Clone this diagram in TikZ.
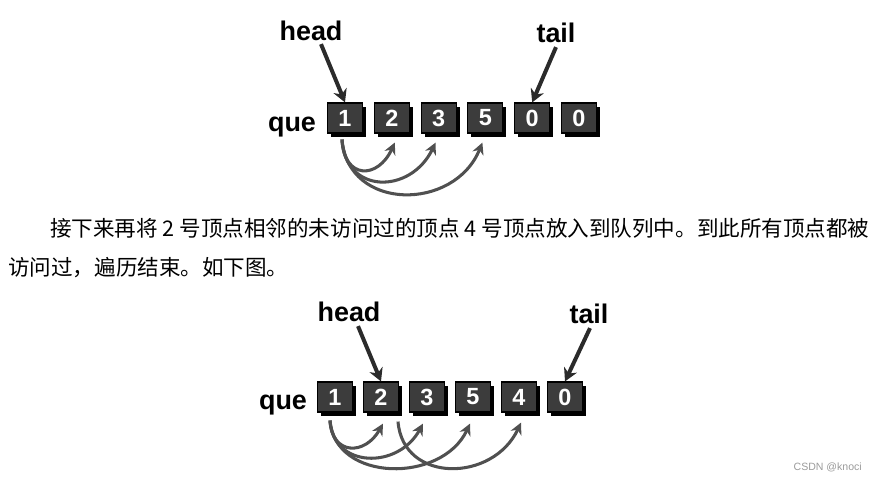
\documentclass[tikz,border=0pt]{standalone}
\usepackage{fontspec}
\setmainfont{Liberation Sans}
\newfontfamily\cjk{Noto Sans CJK SC}
\usetikzlibrary{arrows.meta,calc,shadows,positioning}

\definecolor{colorBox}{HTML}{3C3C3C}
\definecolor{colorArrow}{HTML}{2B2B2B}
\definecolor{colorArc}{HTML}{505050}
\definecolor{colorMark}{HTML}{9A9A9A}
\def\colorBox{colorBox}
\def\colorArrow{colorArrow}
\def\colorArc{colorArc}

\tikzset{
    queBox/.style={draw=black, line width=1pt, fill=\colorBox, text=white,
        font=\bfseries\fontsize{20pt}{20pt}\selectfont,
        minimum width=1.05cm, minimum height=0.9cm, inner sep=0pt,
        drop shadow={shadow xshift=3pt, shadow yshift=-3pt, opacity=1, fill=black}},
    queLabel/.style={inner sep=0pt, font=\bfseries\fontsize{23pt}{23pt}\selectfont},
    queArrow/.style={line width=3.4pt, color=\colorArrow, -{Stealth[length=11pt,width=12pt]}},
    queArc/.style={line width=2.6pt, color=\colorArc, -{Stealth[length=10pt,width=10pt]}},
}

\begin{document}
\begin{tikzpicture}[x=0.03cm, y=-0.03cm]

    \useasboundingbox (0,0) rectangle (878,482);

    % premiere file : 1 2 3 5 0 0
    \node[queLabel] (queA) at (292,127) {que};
    \foreach \n [count=\i] in {1,2,3,5,0,0} {
        \node[queBox] (a\i) at ({345+46.8*(\i-1)},118) {\n};
    }
    \node[queLabel] (headA) at (311,31) {head};
    \node[queLabel] (tailA) at (556,33) {tail};

    \draw[queArrow] ($(headA.south)+(10,3)$) -- (a1.north);
    \draw[queArrow] ($(tailA.south)+(0,4)$) -- (a5.north);

    \draw[queArc] ($(a1.south)+(-3,6)$) .. controls +(2,40) and +(-17,37) .. ($(a2.south)+(3,9)$);
    \draw[queArc] ($(a1.south)+(-3,6)$) .. controls +(3,55) and +(-25,52) .. ($(a3.south)+(-3,9)$);
    \draw[queArc] ($(a1.south)+(-3,6)$) .. controls +(6,72) and +(-28,69) .. ($(a4.south)+(-3,9)$);

    % texte
    \node[anchor=west, inner sep=0pt] (textOne) at (50,228)
        {\cjk\fontsize{18.4pt}{24pt}\selectfont 接下来再将 2 号顶点相邻的未访问过的顶点 4 号顶点放入到队列中。到此所有顶点都被};
    \node[anchor=west, inner sep=0pt] (textTwo) at (8,268)
        {\cjk\fontsize{18.4pt}{24pt}\selectfont 访问过，遍历结束。如下图。};

    % deuxieme file : 1 2 3 5 4 0
    \node[queLabel] (queB) at (283,405) {que};
    \foreach \n [count=\i] in {1,2,3,5,4,0} {
        \node[queBox] (b\i) at ({335+46*(\i-1)},397) {\n};
    }
    \node[queLabel] (headB) at (349,312) {head};
    \node[queLabel] (tailB) at (589,314) {tail};

    \draw[queArrow] ($(headB.south)+(9,4)$) -- (b2.north);
    \draw[queArrow] ($(tailB.south)+(1,4)$) -- (b6.north);

    \draw[queArc] ($(b1.south)+(-5,8)$) .. controls +(2,35) and +(-18,32) .. ($(b2.south)+(2,11)$);
    \draw[queArc] ($(b1.south)+(-5,8)$) .. controls +(3,48) and +(-25,46) .. ($(b3.south)+(-4,11)$);
    \draw[queArc] ($(b1.south)+(-5,8)$) .. controls +(5,62) and +(-28,60) .. ($(b4.south)+(-3,11)$);
    \draw[queArc] ($(b2.south)+(17,9)$) .. controls +(5,62) and +(-28,60) .. ($(b5.south)+(2,10)$);

    % filigrane
    \node[anchor=east, inner sep=0pt, text=colorMark, font=\fontsize{9pt}{9pt}\selectfont] (mark) at (862,467) {CSDN @knoci};

\end{tikzpicture}
\end{document}
